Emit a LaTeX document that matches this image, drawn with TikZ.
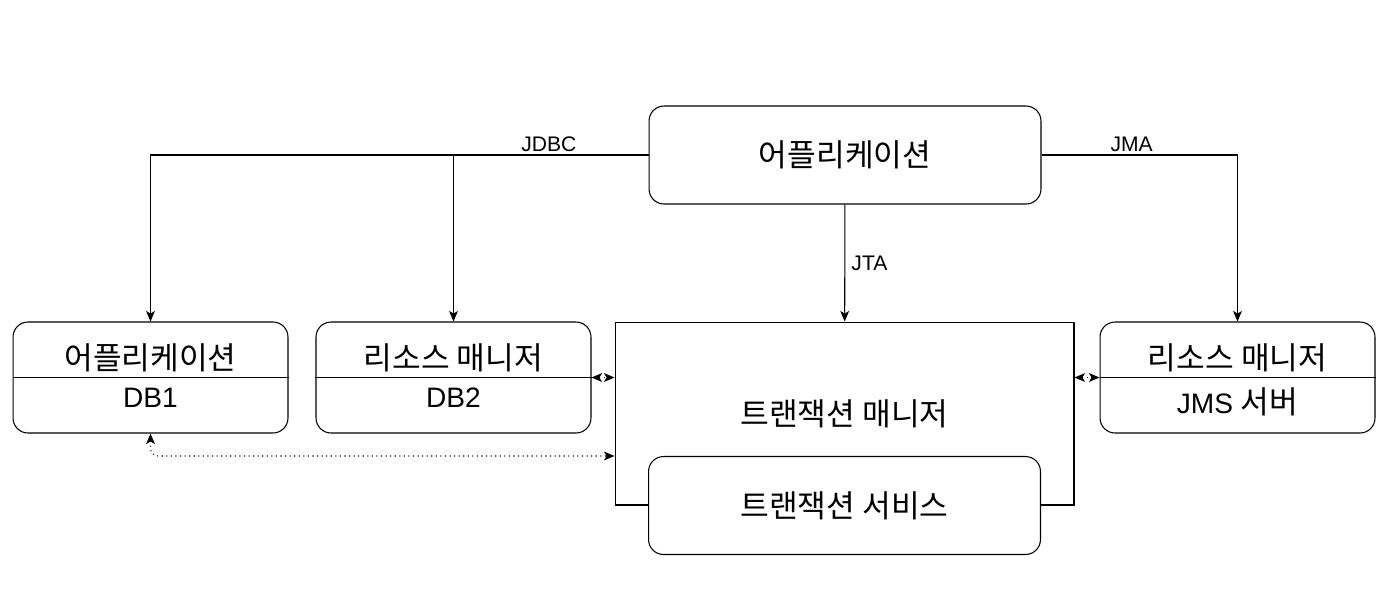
\documentclass[tikz,border=0pt]{standalone}
\usepackage{fontspec}
\setmainfont{Liberation Sans}
\newfontfamily\kr[Scale=1.11]{Noto Sans CJK KR}
\usetikzlibrary{shapes, arrows, arrows.meta, positioning, calc}

\begin{document}
\begin{tikzpicture}[x=0.02cm, y=-0.02cm, line width=0.6pt,
  >={Stealth[length=6pt,width=5pt,inset=1.5pt]},
  rbox/.style={rectangle, draw, rounded corners=0.3cm, minimum width=7.84cm, minimum height=1.96cm, font=\fontsize{16}{19}\selectfont},
  sbox/.style={rectangle, draw, rounded corners=0.3cm, minimum width=5.5cm, minimum height=2.22cm},
  txt/.style={font=\fontsize{16}{19}\selectfont, inner sep=0pt},
  lbl/.style={font=\fontsize{12}{14}\selectfont, inner sep=1.5pt}]
\useasboundingbox (0,0) rectangle (1388,600);

% top and middle
\node (app) [rbox] at (845,155) {\kr 어플리케이션};
\node (tm) [rectangle, draw, minimum width=9.18cm, minimum height=3.66cm, font=\fontsize{16}{19}\selectfont] at (844.5,413.5) {\kr 트랜잭션 매니저};
\node (ts) [rbox, fill=white] at (844.5,505.5) {\kr 트랜잭션 서비스};

% resource boxes
\node (db1) [sbox] at (150.5,377.5) {};
\node (db2) [sbox, right=0.54cm of db1] {};
\node (jms) [sbox] at (1237.5,377.5) {};
\draw (db1.west) -- (db1.east);
\draw (db2.west) -- (db2.east);
\draw (jms.west) -- (jms.east);
\node (db1top) [txt, above=3pt of db1.center] {\kr 어플리케이션};
\node (db1bot) [txt, below=5.5pt of db1.center] {DB1};
\node (db2top) [txt, above=3pt of db2.center] {\kr 리소스 매니저};
\node (db2bot) [txt, below=5.5pt of db2.center] {DB2};
\node (jmstop) [txt, above=3pt of jms.center] {\kr 리소스 매니저};
\node (jmsbot) [txt, below=5.5pt of jms.center] {JMS {\kr 서버}};

% connectors
\draw [->] (app.west) -| node[lbl, above, pos=0.1] {JDBC} (db1.north);
\draw [->] (app.west -| db2.north) -- (db2.north);
\draw [->] (app.east) -| node[lbl, above, pos=0.23] {JMA} (jms.north);
\draw [->] (app) -- node[lbl, right, xshift=2pt] {JTA} (tm);
\draw [<->, dotted] (db2.east) -- (db2.east -| tm.west);
\draw [<->, dotted] (tm.east |- jms.west) -- (jms.west);
\draw [<->, dotted, rounded corners=0.15cm] (db1.south) |- (ts.north -| tm.west);
\end{tikzpicture}
\end{document}
